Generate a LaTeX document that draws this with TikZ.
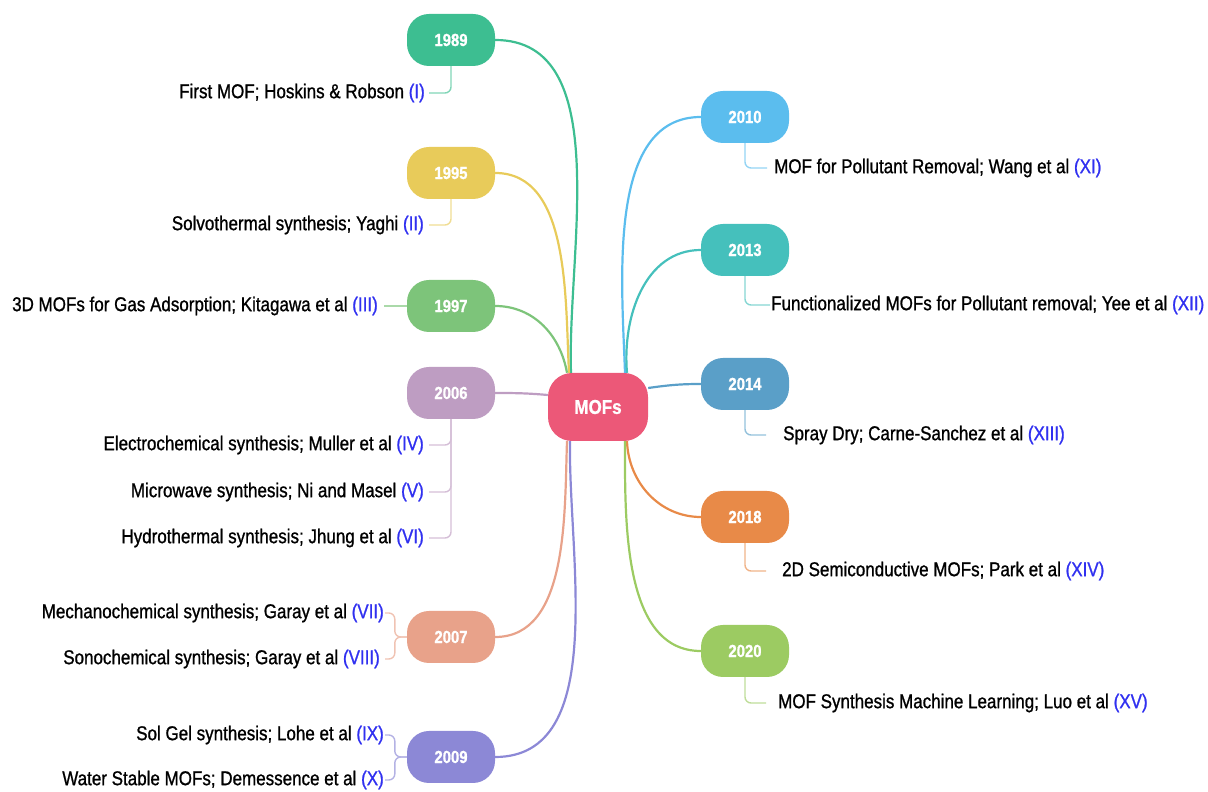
\documentclass[tikz,border=0pt]{standalone}
\usepackage{fontspec}
\setmainfont[FakeStretch=0.85, FakeBold=1]{Liberation Sans}
\definecolor{c1989}{HTML}{3DBE91}
\definecolor{c1995}{HTML}{E8CB5A}
\definecolor{c1997}{HTML}{7DC47A}
\definecolor{c2006}{HTML}{BE9DC2}
\definecolor{c2007}{HTML}{E8A28A}
\definecolor{c2009}{HTML}{8C88D6}
\definecolor{cmofs}{HTML}{EC5878}
\definecolor{c2010}{HTML}{5BBDEE}
\definecolor{c2013}{HTML}{45C0BC}
\definecolor{c2014}{HTML}{5A9FC8}
\definecolor{c2018}{HTML}{E88A48}
\definecolor{c2020}{HTML}{9CCB62}
\definecolor{refblue}{HTML}{3030F0}
\newcommand{\refno}[1]{\textcolor{refblue}{(#1)}}
\tikzset{
  year/.style={fill=#1, rounded corners=22pt, minimum width=88pt, minimum height=52pt,
    text=white, font=\fontsize{17.5}{20}\selectfont\bfseries, inner sep=0pt},
  item/.style={font=\fontsize{20}{24}\selectfont, inner sep=0pt},
  main/.style={draw=#1, line width=2.2pt},
  sub/.style={draw=#1!65, line width=1.4pt, rounded corners=6pt},
}
\begin{document}
\begin{tikzpicture}[x=1pt,y=1pt]
    \useasboundingbox (0,0) rectangle (1208,792);

    % centre
    \node[fill=cmofs, rounded corners=24pt, minimum width=100pt, minimum height=68pt,
      text=white, font=\fontsize{20}{24}\selectfont\bfseries, inner sep=0pt] (mofs) at (598,385) {MOFs};

    % years, left side
    \node[year=c1989] (y1989) at (451,752) {1989};
    \node[year=c1995] (y1995) at (451,619) {1995};
    \node[year=c1997] (y1997) at (451,486) {1997};
    \node[year=c2006] (y2006) at (451,399) {2006};
    \node[year=c2007] (y2007) at (451,155) {2007};
    \node[year=c2009] (y2009) at (451,35) {2009};

    % years, right side
    \node[year=c2010] (y2010) at (745,675) {2010};
    \node[year=c2013] (y2013) at (745,542) {2013};
    \node[year=c2014] (y2014) at (745,408) {2014};
    \node[year=c2018] (y2018) at (745,275) {2018};
    \node[year=c2020] (y2020) at (745,141) {2020};

    % entries
    \node[item, anchor=east] (l1) at (425,699) {First MOF; Hoskins \& Robson \refno{I}};
    \node[item, anchor=east] (l2) at (424,567) {Solvothermal synthesis; Yaghi \refno{II}};
    \node[item, anchor=east] (l3) at (378,486) {3D MOFs for Gas Adsorption; Kitagawa et al \refno{III}};
    \node[item, anchor=east] (l4) at (424,347) {Electrochemical synthesis; Muller et al \refno{IV}};
    \node[item, anchor=east] (l5) at (424,300) {Microwave synthesis; Ni and Masel \refno{V}};
    \node[item, anchor=east] (l6) at (424,254) {Hydrothermal synthesis; Jhung et al \refno{VI}};
    \node[item, anchor=east] (l7) at (384,179) {Mechanochemical synthesis; Garay et al \refno{VII}};
    \node[item, anchor=east] (l8) at (380,133) {Sonochemical synthesis; Garay et al \refno{VIII}};
    \node[item, anchor=east] (l9) at (384,57) {Sol Gel synthesis; Lohe et al \refno{IX}};
    \node[item, anchor=east] (l10) at (384,12) {Water Stable MOFs; Demessence et al \refno{X}};
    \node[item, anchor=west] (l11) at (774,624) {MOF for Pollutant Removal; Wang et al \refno{XI}};
    \node[item, anchor=west] (l12) at (771,487) {Functionalized MOFs for Pollutant removal; Yee et al \refno{XII}};
    \node[item, anchor=west] (l13) at (783,357) {Spray Dry; Carne-Sanchez et al \refno{XIII}};
    \node[item, anchor=west] (l14) at (782,221) {2D Semiconductive MOFs; Park et al \refno{XIV}};
    \node[item, anchor=west] (l15) at (778,89) {MOF Synthesis Machine Learning; Luo et al \refno{XV}};

    % branches from the centre
    \draw[main=c1989] ([xshift=-27pt]mofs.north) to[out=92,in=0,looseness=0.9] (y1989.east);
    \draw[main=c1995] ([xshift=-29pt]mofs.north) to[out=93,in=0,looseness=0.9] (y1995.east);
    \draw[main=c1997] ([xshift=-31pt]mofs.north) to[out=100,in=0] (y1997.east);
    \draw[main=c2006] ([yshift=12pt]mofs.west) to[out=175,in=0] (y2006.east);
    \draw[main=c2007] ([xshift=-31pt]mofs.south) to[out=-92,in=0,looseness=0.9] (y2007.east);
    \draw[main=c2009] ([xshift=-28pt]mofs.south) to[out=-91,in=0,looseness=0.9] (y2009.east);
    \draw[main=c2010] ([xshift=27pt]mofs.north) to[out=92,in=180,looseness=0.9] (y2010.west);
    \draw[main=c2013] ([xshift=29pt]mofs.north) to[out=95,in=180] (y2013.west);
    \draw[main=c2014] ([yshift=19pt]mofs.east) to[out=8,in=180] (y2014.west);
    \draw[main=c2018] ([xshift=29pt]mofs.south) to[out=-88,in=180] (y2018.west);
    \draw[main=c2020] ([xshift=27pt]mofs.south) to[out=-90,in=180,looseness=0.9] (y2020.west);

    % entry connectors
    \draw[sub=c1989] (y1989.south) |- ([xshift=4pt]l1.east);
    \draw[sub=c1995] (y1995.south) |- ([xshift=5pt]l2.east);
    \draw[sub=c1997] (y1997.west) -- ([xshift=6pt]l3.east);
    \draw[sub=c2006] (y2006.south) |- ([xshift=5pt]l4.east);
    \draw[sub=c2006] (y2006.south) |- ([xshift=5pt]l5.east);
    \draw[sub=c2006] (y2006.south) |- ([xshift=5pt]l6.east);
    \draw[sub=c2007] (y2007.west) -- ++(-12,0) |- ([xshift=1pt]l7.east);
    \draw[sub=c2007] (y2007.west) -- ++(-12,0) |- ([xshift=5pt]l8.east);
    \draw[sub=c2009] (y2009.west) -- ++(-12,0) |- ([xshift=1pt]l9.east);
    \draw[sub=c2009] (y2009.west) -- ++(-12,0) |- ([xshift=1pt]l10.east);
    \draw[sub=c2010] (y2010.south) |- ([xshift=-7pt]l11.west);
    \draw[sub=c2013] (y2013.south) |- ([xshift=-1pt]l12.west);
    \draw[sub=c2014] (y2014.south) |- ([xshift=-17pt]l13.west);
    \draw[sub=c2018] (y2018.south) |- ([xshift=-16pt]l14.west);
    \draw[sub=c2020] (y2020.south) |- ([xshift=-12pt]l15.west);
\end{tikzpicture}
\end{document}
